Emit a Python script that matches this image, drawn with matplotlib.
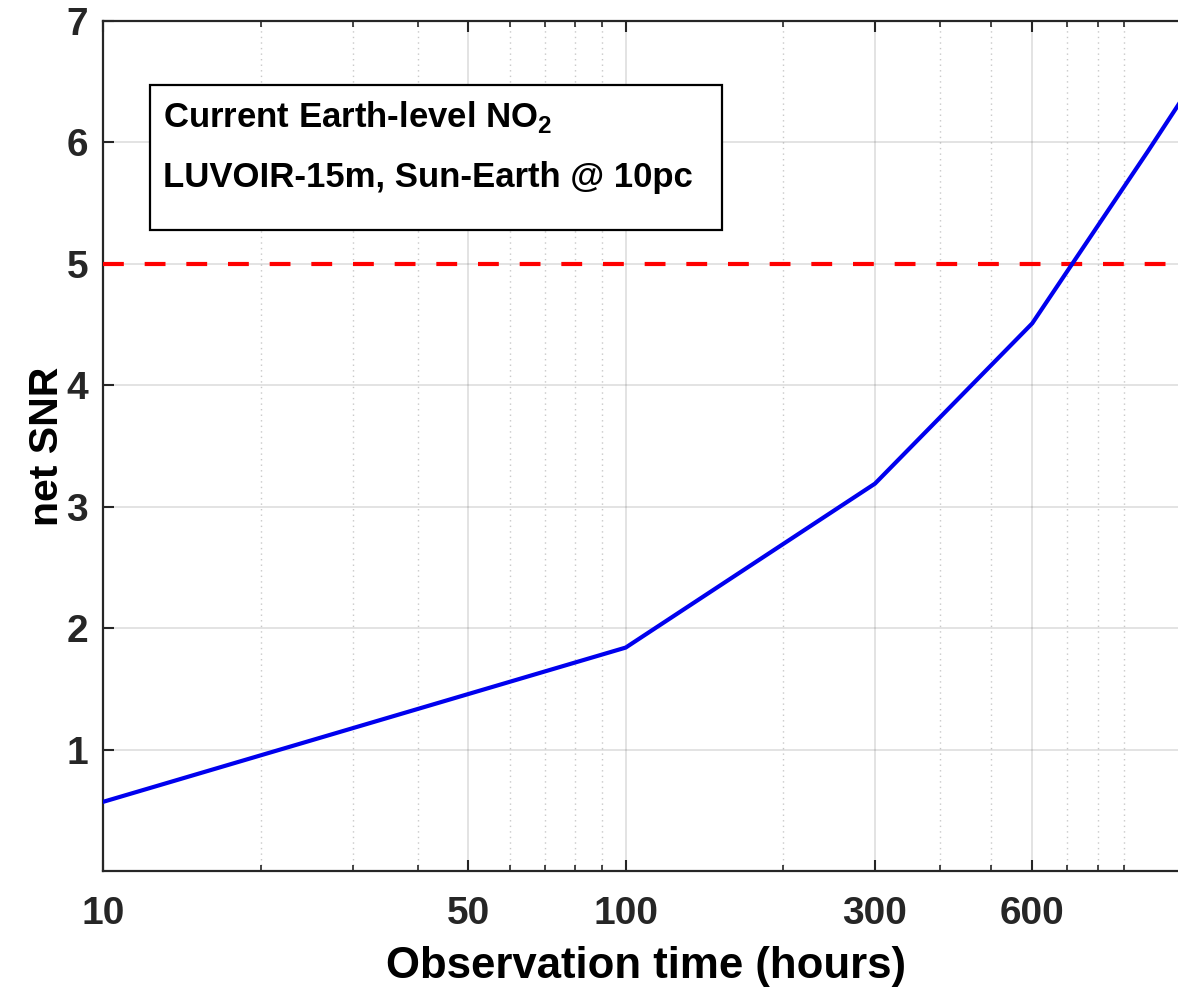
import matplotlib
matplotlib.use("Agg")
import matplotlib.pyplot as plt
from matplotlib.ticker import FixedLocator, LogLocator, NullFormatter
from matplotlib.patches import Rectangle

plt.rcParams['font.family'] = ['Liberation Sans', 'DejaVu Sans']
plt.rcParams['font.weight'] = 'bold'
plt.rcParams['mathtext.fontset'] = 'custom'
plt.rcParams['mathtext.rm'] = 'Liberation Sans:bold'
plt.rcParams['mathtext.bf'] = 'Liberation Sans:bold'

# ---- data ----
obs_hours = [10, 100, 300, 600, 1000, 1200]
net_snr = [0.57, 1.84, 3.19, 4.51, 5.93, 6.45]
snr_threshold = 5
xtick_vals = [10, 50, 100, 300, 600]
xtick_labels = ['10', '50', '100', '300', '600']
ytick_vals = [1, 2, 3, 4, 5, 6, 7]
box_lines = ['Current Earth-level NO$_\\mathdefault{2}$',
             'LUVOIR-15m, Sun-Earth @ 10pc']

W, H = 1178, 992
fig = plt.figure(figsize=(W / 100, H / 100), dpi=100)
ax_left, ax_right, ax_top, ax_bottom = 103.3, 1189.5, 21.0, 871.0
ax = fig.add_axes([ax_left / W, (H - ax_bottom) / H,
                   (ax_right - ax_left) / W, (ax_bottom - ax_top) / H])

dark = (0.15, 0.15, 0.15)
ax.plot(obs_hours, net_snr, color='#0000ee', lw=3.0, zorder=4, solid_joinstyle='round')
ax.axhline(snr_threshold, color='#ff0000', lw=3.0, ls=(0, (5, 5)), zorder=3)

ax.set_xscale('log')
ax.set_xlim(10, 1200)
ax.set_ylim(0, 7)
ax.xaxis.set_major_locator(FixedLocator(xtick_vals))
ax.set_xticklabels(xtick_labels)
ax.xaxis.set_minor_locator(LogLocator(base=10, subs=range(2, 10)))
ax.xaxis.set_minor_formatter(NullFormatter())
ax.set_yticks(ytick_vals)

ax.grid(which='major', axis='both', color=dark, alpha=0.15, lw=1.2, ls='-')
ax.grid(which='minor', axis='x', color=dark, alpha=0.25, lw=1.0, ls=(0, (1, 3)))
ax.set_axisbelow(True)

for s in ax.spines.values():
    s.set_color(dark)
    s.set_linewidth(1.6)

ax.tick_params(which='both', direction='in', top=True, right=True, colors=dark,
               labelsize=28)
ax.tick_params(which='major', length=8, width=1.5)
ax.tick_params(which='minor', length=4, width=1.2)
ax.tick_params(axis='x', pad=18)
ax.tick_params(axis='y', pad=11)
for lab in ax.get_xticklabels() + ax.get_yticklabels():
    lab.set_fontweight('bold')
    lab.set_color(dark)

ax.set_xlabel('Observation time (hours)', fontsize=31.5, fontweight='bold', labelpad=10)
ax.set_ylabel('net SNR', fontsize=29.5, fontweight='bold', labelpad=0)

# annotation box
bx0, bx1, by0, by1 = 150, 722, 85, 230
fig.patches.append(Rectangle((bx0 / W, (H - by1) / H), (bx1 - bx0) / W, (by1 - by0) / H,
                             transform=fig.transFigure, facecolor='white',
                             edgecolor='black', lw=1.6, zorder=5))
fig.text(163 / W, 1 - 117 / H, box_lines[0], fontsize=25, fontweight='bold',
         va='center', ha='left', zorder=6)
fig.text(163 / W, 1 - 178 / H, box_lines[1], fontsize=25, fontweight='bold',
         va='center', ha='left', zorder=6)

fig.savefig('out.png', dpi=100)
